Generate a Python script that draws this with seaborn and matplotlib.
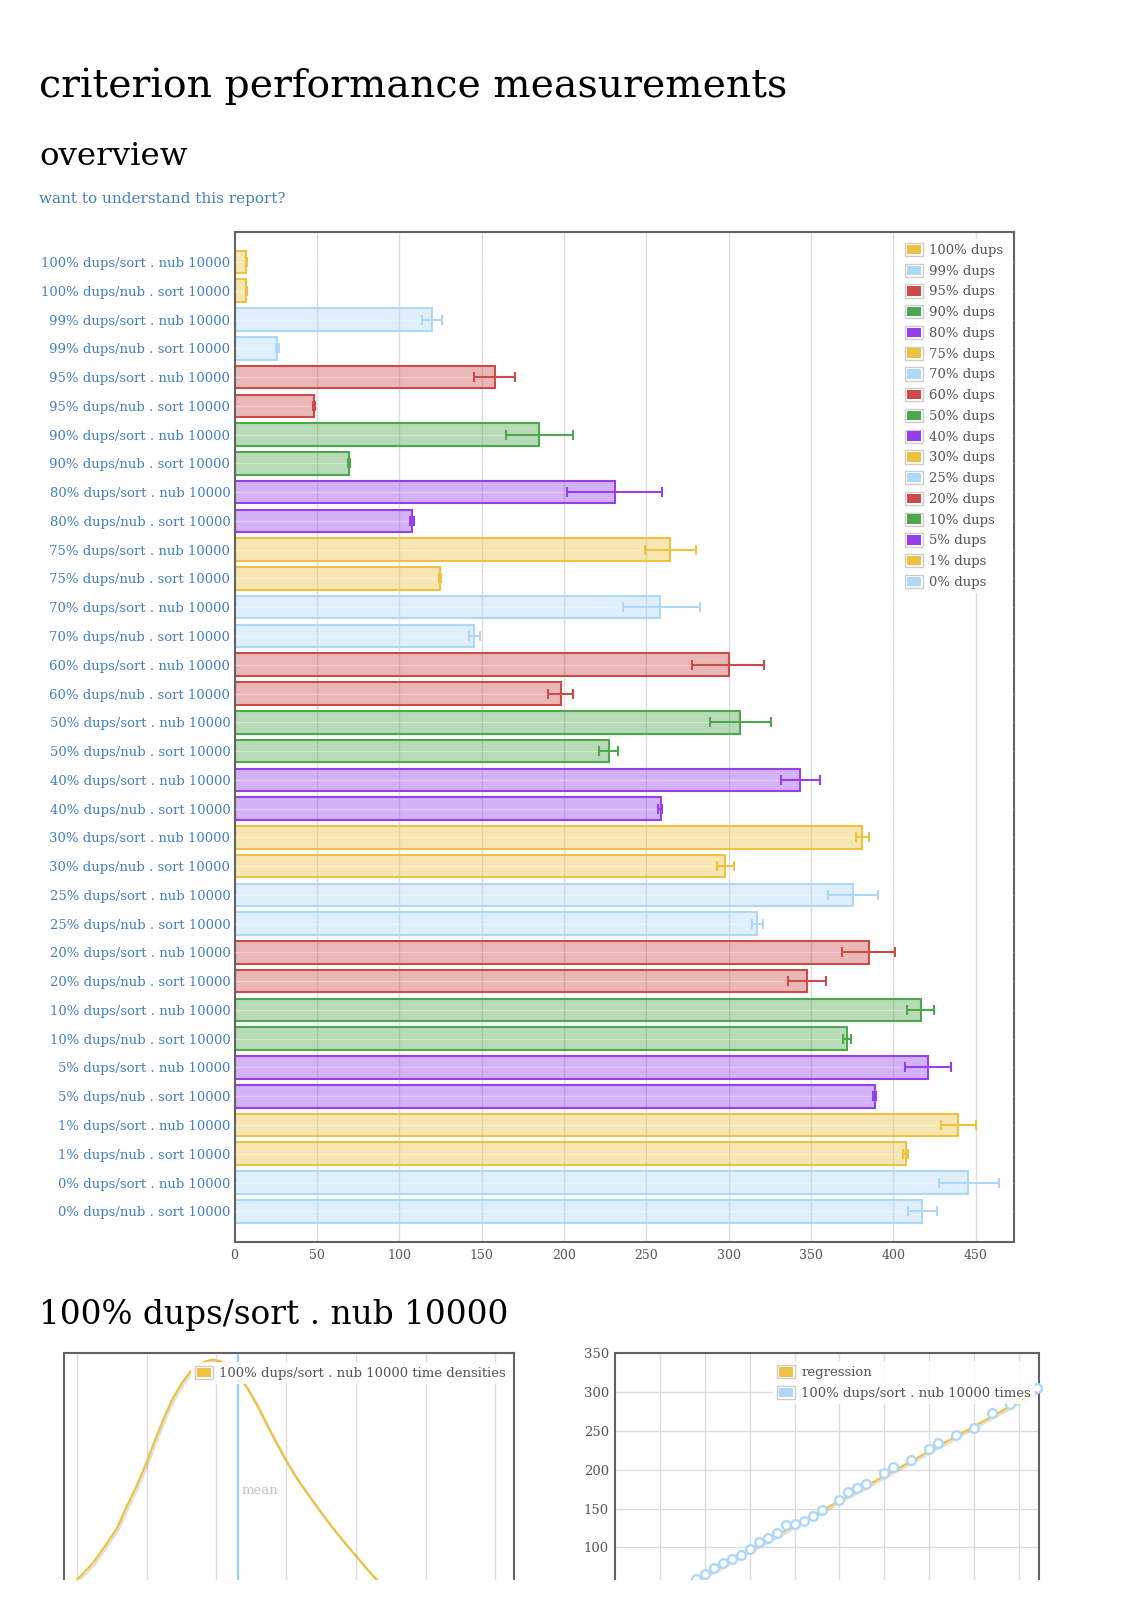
import numpy as np
import pandas as pd
import matplotlib
matplotlib.use("Agg")
import matplotlib.pyplot as plt
import matplotlib.patheffects as pe
from matplotlib.patches import Patch, Rectangle
from matplotlib.legend_handler import HandlerBase
from matplotlib.colors import to_rgba
import seaborn as sns

# ---------------- data ----------------
groups = ['100%', '99%', '95%', '90%', '80%', '75%', '70%', '60%', '50%',
          '40%', '30%', '25%', '20%', '10%', '5%', '1%', '0%']
sort_nub_mean = [7.0, 119.8, 157.9, 185.1, 230.9, 264.6, 258.6, 300.0, 307.1,
                 343.4, 381.3, 375.5, 385.3, 416.6, 421.3, 439.4, 445.5]
sort_nub_lo = [6.7, 113.7, 145.3, 164.6, 201.8, 249.0, 235.8, 278.0, 289.0,
               331.6, 377.4, 360.6, 369.0, 408.1, 407.1, 428.7, 427.8]
sort_nub_hi = [7.5, 126.2, 170.2, 205.3, 259.5, 280.2, 282.5, 321.8, 325.8,
               355.3, 385.3, 390.9, 401.3, 425.0, 435.0, 450.4, 463.9]
nub_sort_mean = [7.0, 26.0, 48.3, 69.6, 107.8, 124.8, 145.3, 198.1, 227.2,
                 258.8, 297.6, 317.1, 347.4, 372.0, 388.8, 407.6, 417.6]
nub_sort_lo = [6.7, 25.5, 47.8, 69.0, 106.8, 124.0, 142.1, 190.5, 221.1,
               257.4, 292.8, 314.4, 336.0, 369.7, 387.8, 406.2, 409.0]
nub_sort_hi = [7.5, 26.9, 48.8, 70.2, 108.8, 125.6, 148.8, 205.3, 232.7,
               259.8, 303.0, 320.7, 359.0, 374.1, 389.8, 409.0, 426.7]
x_ticks = [0, 50, 100, 150, 200, 250, 300, 350, 400, 450]

flot_colors = ['#edc240', '#afd8f8', '#cb4b4b', '#4da74d', '#9440ed']

# density of the first benchmark
dens_x = [6.670, 6.7000, 6.7232, 6.7433, 6.7576, 6.7691, 6.7848, 6.7997,
          6.8120, 6.8254, 6.8378, 6.8507, 6.8622, 6.8713, 6.8822, 6.8944,
          6.9052, 6.9175, 6.9295, 6.9430, 6.9582, 6.9738, 6.9868, 6.9993,
          7.0140, 7.0298, 7.0484, 7.0656, 7.0842, 7.1014, 7.1158, 7.1301,
          7.165, 7.220, 7.330]
dens_y = [0.210, 0.2608, 0.3163, 0.3815, 0.4304, 0.4891, 0.5641, 0.6423,
          0.7173, 0.7923, 0.8543, 0.9032, 0.9390, 0.9553, 0.9716, 0.9798,
          0.9749, 0.9563, 0.9293, 0.8911, 0.8314, 0.7607, 0.7043, 0.6521,
          0.5967, 0.5445, 0.4858, 0.4337, 0.3815, 0.3358, 0.2967, 0.2608,
          0.200, 0.130, 0.050]
dens_mean = 6.931
dens_ticks = [6.7, 6.8, 6.9, 7.0, 7.1, 7.2, 7.3]

# regression of the first benchmark
iters = [9, 10, 11, 12, 13, 14, 15, 16, 17, 18, 19, 20, 21, 22, 23, 25, 26, 27,
         28, 30, 31, 33, 35, 36, 38, 40, 42, 44, 47]
times = [59.6, 65.2, 73.4, 79.8, 84.5, 90.6, 98.3, 106.4, 111.6, 118.0, 128.7,
         129.6, 133.9, 140.8, 148.5, 160.5, 171.2, 176.0, 181.1, 195.3, 203.0,
         212.4, 227.0, 233.9, 244.2, 253.6, 273.4, 284.5, 305.2]
reg_x = [0, 47.2]
reg_y = [-0.7, 302.3]
reg_xticks = [0, 5, 10, 15, 20, 25, 30, 35, 40, 45]
reg_grid_y = [50, 100, 150, 200, 250, 300, 350]
reg_yticks = [100, 150, 200, 250, 300, 350]

# ---------------- setup ----------------
sns.set_theme(style='white')
plt.rcParams['font.family'] = ['DejaVu Serif']
W, H = 1131, 1600
fig = plt.figure(figsize=(W / 100, H / 100), dpi=100)
fig.patch.set_facecolor('white')

TXT = '#545454'
LINK = '#4480bd'
GRID = '#dcdcdc'
FRAME = '#626262'


def fx(px):
    return px / W


def fy(py):
    return 1 - py / H


class BoxHandler(HandlerBase):
    def create_artists(self, legend, orig_handle, xdescent, ydescent,
                       width, height, fontsize, trans):
        outer = Rectangle((-xdescent, -ydescent), width, height,
                          facecolor='white', edgecolor='#cccccc', lw=1.0,
                          transform=trans)
        inner = Rectangle((-xdescent + 1.3, -ydescent + 1.3), width - 2.6,
                          height - 2.6, facecolor=orig_handle.get_facecolor(),
                          edgecolor='none', transform=trans)
        return [outer, inner]


def make_legend(ax, handles, labels, left_px, top_px):
    leg = ax.legend(handles, labels, loc='upper left',
                    bbox_to_anchor=(fx(left_px), fy(top_px)),
                    bbox_transform=fig.transFigure, borderaxespad=0,
                    fontsize=9.5, handlelength=1.36, handleheight=1.15,
                    handletextpad=0.45, labelspacing=0.51, borderpad=0.3,
                    frameon=True, fancybox=False, framealpha=0.85,
                    handler_map={Patch: BoxHandler()})
    leg.get_frame().set_edgecolor('none')
    leg.get_frame().set_facecolor('white')
    for t in leg.get_texts():
        t.set_color(TXT)
    leg.set_zorder(20)
    return leg


def style_frame(ax):
    for s in ax.spines.values():
        s.set_visible(True)
        s.set_color(FRAME)
        s.set_linewidth(1.5)


# ---------------- headings ----------------
fig.text(fx(39), fy(97), 'criterion performance measurements', fontsize=28.4,
         color='black', va='baseline', ha='left')
fig.text(fx(39), fy(165), 'overview', fontsize=23.4, color='black',
         va='baseline', ha='left')
fig.text(fx(39), fy(203), 'want to understand this report?', fontsize=11,
         color=LINK, va='baseline', ha='left')
fig.text(fx(39), fy(1324), '100% dups/sort . nub 10000', fontsize=23.6,
         color='black', va='baseline', ha='left')

# ---------------- overview bar chart ----------------
labels, means, los, his, grp, cols = [], [], [], [], [], []
for i, g in enumerate(groups):
    c = flot_colors[i % 5]
    labels += [f'{g} dups/sort . nub 10000', f'{g} dups/nub . sort 10000']
    means += [sort_nub_mean[i], nub_sort_mean[i]]
    los += [sort_nub_lo[i], nub_sort_lo[i]]
    his += [sort_nub_hi[i], nub_sort_hi[i]]
    grp += [g, g]
    cols += [c, c]
df = pd.DataFrame({'label': labels, 'time': means, 'group': grp})
pal = {g: flot_colors[i % 5] for i, g in enumerate(groups)}

ax = fig.add_axes([fx(234.5), fy(1242.3), fx(779), 1010.6 / H])
sns.barplot(data=df, x='time', y='label', hue='group', palette=pal,
            order=labels, hue_order=groups, dodge=False, width=0.785,
            errorbar=None, legend=False, saturation=1, ax=ax)
for p in ax.patches:
    yc = p.get_y() + p.get_height() / 2
    idx = int(round(yc))
    if 0 <= idx < len(cols):
        c = cols[idx]
        p.set_facecolor(to_rgba(c, 0.4))
        p.set_edgecolor(c)
        p.set_linewidth(1.5)
        p.set_zorder(2)

n = len(labels)
ax.hlines(np.arange(n), 0, 480, colors='white', linewidth=1.0, alpha=0.35,
          zorder=3)
for i in range(n):
    ax.errorbar([means[i]], [i], xerr=[[means[i] - los[i]], [his[i] - means[i]]],
                fmt='none', ecolor=cols[i], elinewidth=1.5, capsize=3.85,
                capthick=1.5, zorder=4)

ax.set_xlim(0, 473)
ax.set_ylim(n - 1 + 1.077, -1.053)
ax.set_xticks(x_ticks)
ax.set_xticklabels([str(v) for v in x_ticks])
ax.set_xlabel('')
ax.set_ylabel('')
ax.grid(False)
ax.set_axisbelow(True)
for v in x_ticks[1:]:
    ax.axvline(v, color=GRID, linewidth=1.0, zorder=0.5)
ax.tick_params(axis='x', length=0, pad=5, labelsize=9, labelcolor=TXT)
ax.tick_params(axis='y', length=0, pad=3, labelsize=9.5, labelcolor=LINK)
style_frame(ax)

handles = [Patch(facecolor=pal[g]) for g in groups]
make_legend(ax, handles, [f'{g} dups' for g in groups], 901, 239.0)

# ---------------- density chart ----------------
ax2 = fig.add_axes([fx(64.3), fy(1660), fx(449.3), 306.7 / H])
sns.lineplot(x=dens_x, y=dens_y, color='#edc240', linewidth=1.6, ax=ax2,
             path_effects=[pe.SimpleLineShadow(offset=(1.2, -1.2),
                                               shadow_color='#000000',
                                               alpha=0.12),
                           pe.Normal()], zorder=3)
ax2.axvline(dens_mean, color='#99cdf5', linewidth=1.6, zorder=2)
ax2.text(dens_mean + 0.005, 0.552, 'mean', color='#c4c4c4', fontsize=9.5,
         ha='left', va='center')
ax2.set_xlim(6.682, 7.326)
ax2.set_ylim(0, 1.0)
ax2.set_xticks(dens_ticks)
ax2.set_yticks([])
for v in dens_ticks:
    ax2.axvline(v, color=GRID, linewidth=1.0, zorder=0.5)
ax2.tick_params(axis='x', length=0, labelbottom=False)
ax2.set_xlabel('')
ax2.set_ylabel('')
style_frame(ax2)
make_legend(ax2, [Patch(facecolor='#edc240')],
            ['100% dups/sort . nub 10000 time densities'], 191, 1361.9)

# ---------------- regression chart ----------------
ax3 = fig.add_axes([fx(614.6), fy(1624.9), fx(424.6), 271.6 / H])
sns.lineplot(x=reg_x, y=reg_y, color='#edc240', linewidth=1.6, ax=ax3,
             path_effects=[pe.SimpleLineShadow(offset=(1.2, -1.2),
                                               shadow_color='#000000',
                                               alpha=0.12),
                           pe.Normal()], zorder=3)
sns.scatterplot(x=iters, y=times, ax=ax3, s=40, facecolor='white',
                edgecolor='#afd8f8', linewidth=1.7, zorder=4, clip_on=False)
ax3.set_xlim(0, 47.2)
ax3.set_ylim(0, 350)
ax3.set_xticks(reg_xticks)
ax3.set_yticks(reg_yticks)
ax3.set_yticklabels([str(v) for v in reg_yticks])
for v in reg_xticks[1:]:
    ax3.axvline(v, color=GRID, linewidth=1.0, zorder=0.5)
for v in reg_grid_y:
    ax3.axhline(v, color=GRID, linewidth=1.0, zorder=0.5)
ax3.tick_params(axis='x', length=0, labelbottom=False)
ax3.tick_params(axis='y', length=0, pad=4, labelsize=9.5, labelcolor=TXT)
ax3.set_xlabel('')
ax3.set_ylabel('')
style_frame(ax3)
make_legend(ax3, [Patch(facecolor='#edc240'), Patch(facecolor='#afd8f8')],
            ['regression', '100% dups/sort . nub 10000 times'], 773.4, 1361.3)

# bottom of the page is blank in the reference screenshot
fig.add_artist(Rectangle((0, 0), 1, 20 / H, transform=fig.transFigure,
                         facecolor='white', edgecolor='none', zorder=100))

fig.savefig('out.png', dpi=100, facecolor='white')
